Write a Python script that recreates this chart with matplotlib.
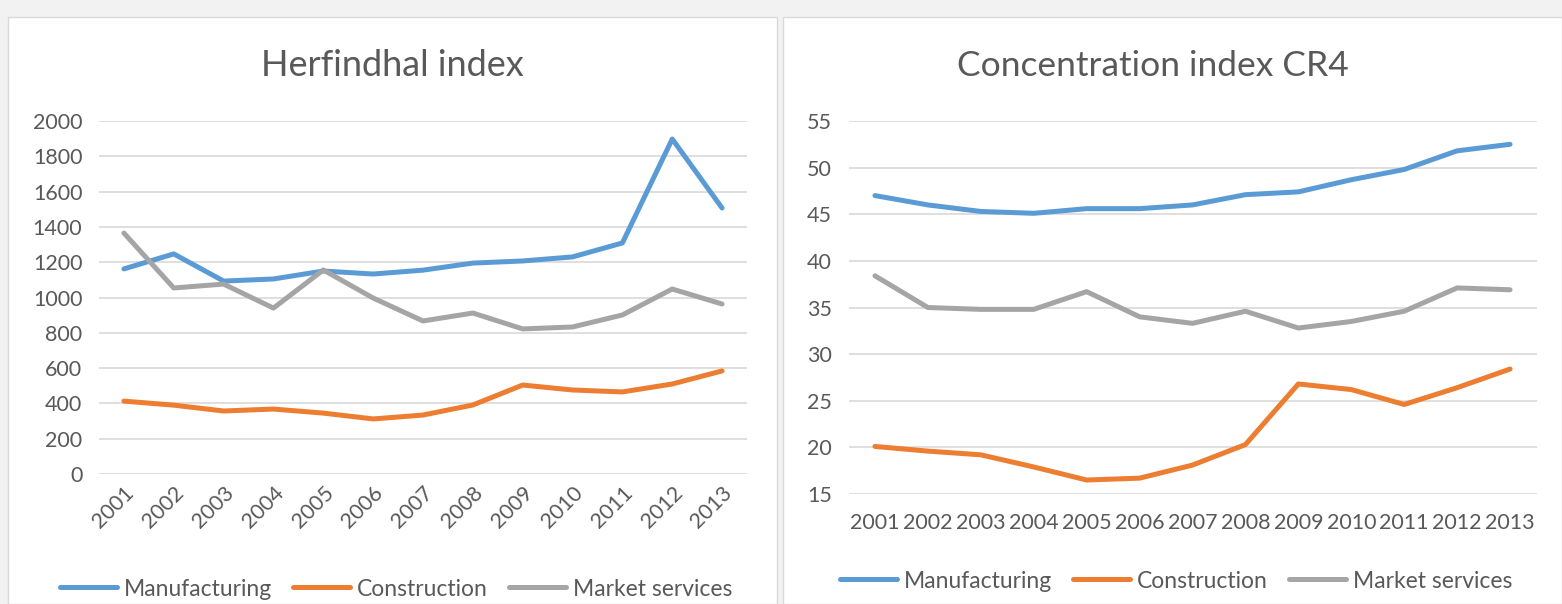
import matplotlib
matplotlib.use("Agg")
import matplotlib.pyplot as plt
from matplotlib.patches import Rectangle

plt.rcParams['font.family'] = ['Lato', 'DejaVu Sans']

years = ['2001', '2002', '2003', '2004', '2005', '2006', '2007',
         '2008', '2009', '2010', '2011', '2012', '2013']

# Herfindhal index
hhi_manufacturing = [1162, 1247, 1093, 1105, 1150, 1133, 1155, 1195, 1207, 1230, 1309, 1898, 1507]
hhi_construction = [413, 390, 357, 368, 345, 312, 334, 391, 504, 476, 465, 510, 584]
hhi_market = [1365, 1054, 1076, 940, 1156, 997, 867, 912, 822, 833, 901, 1048, 963]

# Concentration index CR4
cr4_manufacturing = [47.0, 46.0, 45.3, 45.1, 45.6, 45.6, 46.0, 47.1, 47.4, 48.7, 49.8, 51.8, 52.5]
cr4_construction = [20.1, 19.6, 19.2, 17.9, 16.5, 16.7, 18.1, 20.3, 26.8, 26.2, 24.6, 26.4, 28.4]
cr4_market = [38.4, 35.0, 34.8, 34.8, 36.7, 34.0, 33.3, 34.6, 32.8, 33.5, 34.6, 37.1, 36.9]

series_names = ['Manufacturing', 'Construction', 'Market services']
colors = ['#5B9BD5', '#ED7D31', '#A5A5A5']
text_col = '#595959'
grid_col = '#D9D9D9'

W, H = 1562, 604
fig = plt.figure(figsize=(W / 100, H / 100), dpi=100)
fig.patch.set_facecolor('#F2F2F2')

# white chart panels, kept behind the axes
for x0, x1 in [(8, 777), (783, 1562)]:
    fig.patches.append(Rectangle((x0 / W, 0), (x1 - x0) / W, (H - 17) / H,
                                 transform=fig.transFigure, facecolor='white',
                                 edgecolor='#D9D9D9', lw=1, zorder=-5))


def style_axes(ax):
    ax.set_facecolor('none')
    for s in ax.spines.values():
        s.set_visible(False)
    ax.yaxis.grid(True, color=grid_col, lw=1.2)
    ax.set_axisbelow(True)
    ax.tick_params(length=0, colors=text_col, labelsize=15.5, pad=12)
    ax.set_xlim(-0.5, len(years) - 0.5)


def add_legend(ax, x, y):
    ax.legend(series_names, loc='center', bbox_to_anchor=(x / W, 1 - y / H),
              bbox_transform=fig.transFigure, ncol=3, frameon=False,
              fontsize=16.5, labelcolor=text_col, handlelength=2.5,
              handletextpad=0.3, columnspacing=0.9)


# left chart
ax1 = fig.add_axes([99 / W, (H - 474) / H, 648 / W, 353 / H])
for vals, c in zip([hhi_manufacturing, hhi_construction, hhi_market], colors):
    ax1.plot(range(len(years)), vals, color=c, lw=3.6, solid_capstyle='round')
style_axes(ax1)
ax1.set_ylim(0, 2000)
ax1.set_yticks(range(0, 2001, 200))
ax1.set_xticks(range(len(years)))
ax1.set_xticklabels(years, rotation=45, ha='right', rotation_mode='anchor')
ax1.tick_params(axis='x', pad=6)
fig.text(392 / W, 1 - 66 / H, 'Herfindhal index', ha='center', va='center',
         fontsize=26, color=text_col)
add_legend(ax1, 396, 589)

# right chart
ax2 = fig.add_axes([848.5 / W, (H - 494) / H, 688 / W, 373 / H])
for vals, c in zip([cr4_manufacturing, cr4_construction, cr4_market], colors):
    ax2.plot(range(len(years)), vals, color=c, lw=3.6, solid_capstyle='round')
style_axes(ax2)
ax2.set_ylim(15, 55)
ax2.set_yticks(range(15, 56, 5))
ax2.set_xticks(range(len(years)))
ax2.set_xticklabels(years)
ax2.tick_params(axis='x', pad=14)
fig.text(1153 / W, 1 - 66 / H, 'Concentration index CR4', ha='center', va='center',
         fontsize=25.5, color=text_col)
add_legend(ax2, 1176, 581)

fig.savefig('out.png', dpi=100, facecolor=fig.get_facecolor())
